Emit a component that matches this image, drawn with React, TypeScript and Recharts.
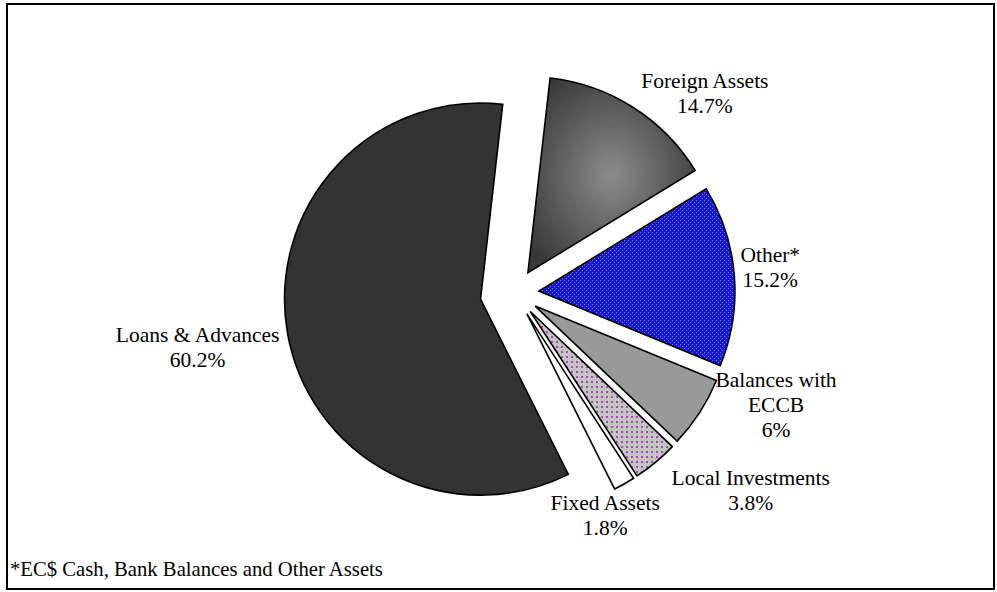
import { PieChart, Pie, Cell, Sector } from 'recharts'

const categories = ['Foreign Assets', 'Other*', 'Balances with ECCB', 'Local Investments', 'Fixed Assets', 'Loans & Advances']
const shares = [14.7, 15.2, 6, 3.8, 1.8, 60.2]
const labelText = ['14.7%', '15.2%', '6%', '3.8%', '1.8%', '60.2%']
const footnote = '*EC$ Cash, Bank Balances and Other Assets'

const data = categories.map((name, i) => ({ name, value: shares[i] }))

const fills = ['url(#fxGrad)', 'url(#blueWeave)', '#999999', 'url(#purpleDots)', '#ffffff', '#333333']
const explode = [24, 24, 24, 24, 24, 35]
// label text wrapping + nudges (Excel labels were dragged by hand)
const wrap: Record<string, string[]> = { 'Balances with ECCB': ['Balances with', 'ECCB'] }
const nudge = [[63, 0], [20, -7], [63, -16], [85, 16], [-27, 18], [-85, 13]]

const FONT = '"Liberation Serif", "Times New Roman", serif'
const RAD = Math.PI / 180

function idxOf(p: any) {
  const n = p.name ?? p.payload?.name
  return Math.max(0, categories.indexOf(n))
}

function ExplodedSlice(props: any) {
  const i = idxOf(props)
  const off = explode[i]
  const a = -props.midAngle * RAD
  return <Sector {...props} cx={props.cx + off * Math.cos(a)} cy={props.cy + off * Math.sin(a)} />
}

function SliceLabel(props: any) {
  const { cx, cy, midAngle, outerRadius } = props
  const i = idxOf(props)
  const r = outerRadius + 40
  const a = -midAngle * RAD
  const x = cx + r * Math.cos(a) + nudge[i][0]
  const y = cy + r * Math.sin(a) + nudge[i][1]
  const lines = [...(wrap[categories[i]] ?? [categories[i]]), labelText[i]]
  const lh = 25
  const top = y - ((lines.length - 1) * lh) / 2
  return (
    <text x={x} y={top} textAnchor="middle" dominantBaseline="central" fontFamily={FONT} fontSize={21.5} fill="#000">
      {lines.map((l, k) => (
        <tspan key={k} x={x} y={top + k * lh}>{l}</tspan>
      ))}
    </text>
  )
}

export default function App() {
  return (
    <div style={{ position: 'absolute', left: 0, top: 0, width: 997, height: 592, background: '#fff' }}>
      <PieChart width={997} height={592} margin={{ top: 0, right: 0, bottom: 0, left: 0 }}>
        <defs>
          <radialGradient id="fxGrad" cx="50%" cy="50%" r="60%">
            <stop offset="0%" stopColor="#8c8c8c" />
            <stop offset="100%" stopColor="#383838" />
          </radialGradient>
          <pattern id="blueWeave" width="4" height="4" patternUnits="userSpaceOnUse">
            <rect width="4" height="4" fill="#1414ee" />
            <rect x="0" y="0" width="1" height="1" fill="#8080cc" />
            <rect x="2" y="2" width="1" height="1" fill="#8080cc" />
          </pattern>
          <pattern id="purpleDots" width="5" height="5" patternUnits="userSpaceOnUse">
            <rect width="5" height="5" fill="#c4c4c4" />
            <rect x="1" y="1" width="2" height="2" fill="#a050a8" />
          </pattern>
        </defs>
        <Pie
          data={data}
          dataKey="value"
          nameKey="name"
          cx={515}
          cy={293}
          outerRadius={196}
          startAngle={83.5}
          endAngle={-276.5}
          stroke="#000"
          strokeWidth={1.6}
          shape={ExplodedSlice}
          label={SliceLabel}
          labelLine={false}
          isAnimationActive={false}
        >
          {data.map((d, i) => (
            <Cell key={d.name} fill={fills[i]} />
          ))}
        </Pie>
      </PieChart>
      <div style={{ position: 'absolute', left: 6, top: 3, width: 989, height: 587, border: '2px solid #000', boxSizing: 'border-box', pointerEvents: 'none' }} />
      <div style={{ position: 'absolute', left: 10, top: 558, fontFamily: FONT, fontSize: 20.7, color: '#000', whiteSpace: 'nowrap' }}>
        {footnote}
      </div>
    </div>
  )
}
